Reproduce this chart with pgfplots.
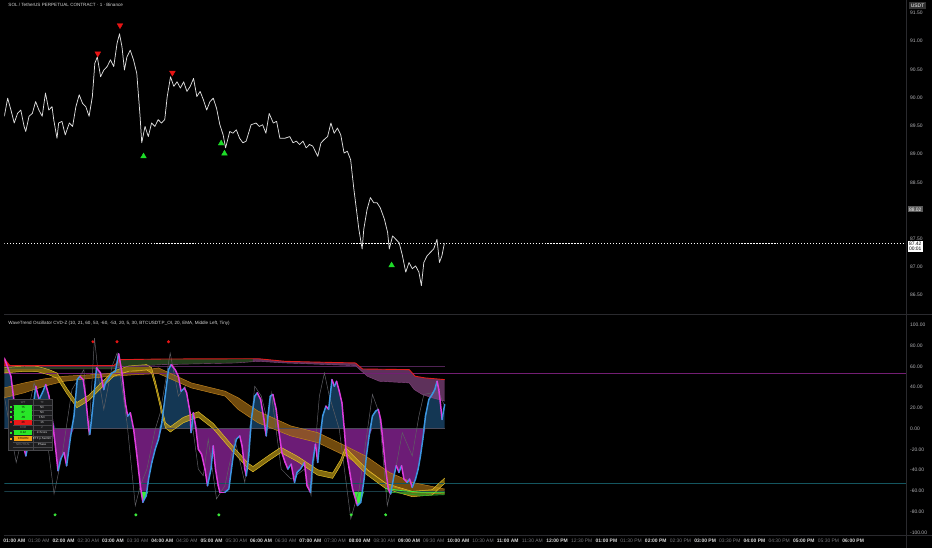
\documentclass[border=0pt]{standalone}
\usepackage{pgfplots}
\usepackage{pgfplotstable}
\pgfplotsset{compat=1.18}
\usepgfplotslibrary{fillbetween}
\usepackage{fontspec}
\setmainfont{Liberation Sans}
\pagecolor{black}

\definecolor{tvlab}{RGB}{178,178,182}
\definecolor{tvhour}{RGB}{215,215,215}
\definecolor{tvhalf}{RGB}{120,120,124}
\definecolor{tvsep}{RGB}{42,42,46}
\definecolor{priceln}{RGB}{222,222,222}
\definecolor{trired}{RGB}{232,20,20}
\definecolor{trigreen}{RGB}{30,220,40}
\definecolor{fillup}{RGB}{20,55,84}
\definecolor{filldn}{RGB}{108,28,118}
\definecolor{cvdgray}{RGB}{95,95,100}
\definecolor{fastfill}{RGB}{185,150,20}
\definecolor{fastedge}{RGB}{225,190,40}
\definecolor{slowfill}{RGB}{150,100,18}
\definecolor{slowedge}{RGB}{190,130,30}
\definecolor{bandred}{RGB}{225,30,30}
\definecolor{bandgreen}{RGB}{50,90,40}
\definecolor{bandmauve}{RGB}{135,70,130}
\definecolor{lnp53}{RGB}{115,30,115}
\definecolor{lnp60}{RGB}{80,35,85}
\definecolor{lnzero}{RGB}{75,75,90}
\definecolor{lnm53}{RGB}{20,85,95}
\definecolor{lnm60}{RGB}{25,60,70}
\definecolor{lime}{RGB}{60,235,60}
\definecolor{tbbg}{RGB}{28,28,30}
\definecolor{tbline}{RGB}{70,70,74}
\definecolor{tgreen}{RGB}{40,230,40}
\definecolor{tred}{RGB}{235,25,25}
\definecolor{torange}{RGB}{245,160,20}

\newcommand\tvfont{\fontsize{5}{5.5}\selectfont}
\newcommand\tbfont{\fontsize{3}{3.3}\selectfont}
\newcommand\hl[1]{\textcolor{tvhour}{\textbf{#1}}}
\newcommand\hh[1]{\textcolor{tvhalf}{#1}}

% 1-minute SOL price, minutes after midnight
\pgfplotstableread{
t p
48 89.67
52 89.99
56 89.78
60 89.55
64 89.72
68 89.78
72 89.49
74 89.40
78 89.67
82 89.72
86 89.93
90 89.78
94 89.67
98 90.08
102 89.78
106 89.84
108 89.61
112 89.28
114 89.55
118 89.58
122 89.34
127 89.55
131 89.49
135 89.84
139 90.05
143 89.90
147 89.84
151 89.67
155 90.02
158 90.61
161 90.72
165 90.37
169 90.49
173 90.55
177 90.67
181 90.55
185 90.96
188 91.13
191 90.90
194 90.49
197 90.72
201 90.84
205 90.67
209 90.43
213 89.67
215 89.20
219 89.49
223 89.31
227 89.55
231 89.49
235 89.61
239 89.55
243 89.61
246 90.02
250 90.37
254 90.20
258 90.28
262 90.17
266 90.28
270 90.11
274 90.20
278 90.34
282 90.02
286 90.11
290 89.96
294 89.78
298 89.93
302 89.99
306 89.81
310 89.52
314 89.34
317 89.11
322 89.40
326 89.37
330 89.43
334 89.28
338 89.20
342 89.23
348 89.52
354 89.55
358 89.49
362 89.52
366 89.37
370 89.72
375 89.55
379 89.58
383 89.28
389 89.28
395 89.31
399 89.20
403 89.23
407 89.17
411 89.23
415 89.11
419 89.17
423 89.14
429 88.96
433 89.20
437 89.26
441 89.31
445 89.55
449 89.37
453 89.46
457 89.34
461 89.02
465 89.05
469 88.90
473 88.37
475 88.14
479 87.67
483 87.32
485 87.67
489 88.02
493 88.23
497 88.14
501 88.14
505 88.05
510 87.85
514 87.61
516 87.32
520 87.55
524 87.49
528 87.43
532 87.20
536 86.91
540 87.08
544 86.97
548 87.02
552 86.91
555 86.67
558 87.08
562 87.20
566 87.26
570 87.32
574 87.49
577 87.08
580 87.20
583 87.42
}\pricedata

% wave line: c=1 rising (blue), c=0 falling (magenta)
\pgfplotstableread{
t v c
47.9 68.0 0
56.0 50.4 0
60.0 24.9 0
66.0 -0.6 0
74.2 -26.2 1
78.1 -10.2 1
82.1 15.3 1
86.2 40.8 0
90.2 28.1 1
94.2 34.5 1
98.3 42.4 0
102.3 31.3 0
106.3 8.9 0
110.4 -19.8 0
113.2 -40.5 1
116.5 -29.3 1
120.5 -23.0 0
123.7 -35.7 1
128.6 -7.0 1
132.6 12.1 1
136.6 47.2 1
139.8 50.4 0
143.8 47.2 0
146.7 31.3 0
150.7 -0.6 0
151.9 -5.4 1
153.5 5.7 1
156.8 31.3 1
160.0 58.4 0
164.9 53.6 0
168.9 37.6 1
170.9 44.0 1
174.9 48.8 1
178.9 53.6 1
183.0 55.2 1
187.0 72.0 0
191.0 53.6 0
195.1 24.9 0
197.9 12.1 1
201.2 15.3 0
205.2 -0.6 0
209.2 -26.2 0
213.3 -54.9 0
216.4 -70.8 1
220.5 -64.4 1
223.3 -48.5 1
227.3 -32.5 1
231.4 -19.8 1
235.4 -10.2 1
239.4 5.7 1
243.5 31.3 1
247.5 56.8 1
250.8 61.6 0
255.6 56.8 0
259.6 50.4 0
262.9 36.0 1
266.9 39.2 0
269.6 34.5 0
273.8 15.3 0
275.0 -3.8 1
277.7 15.3 0
280.5 2.6 0
283.8 -19.8 0
287.8 -24.6 0
291.9 -38.9 0
295.0 -54.9 1
299.2 -38.9 1
301.9 -16.6 0
304.7 -38.9 0
308.0 -54.9 0
310.0 -61.2 0
316.1 -61.2 1
320.9 -58.1 1
324.1 -38.9 1
327.3 -19.8 1
330.1 -10.2 1
334.2 -7.0 0
337.0 -16.6 0
340.3 -38.9 0
342.2 -45.3 1
345.1 -26.2 1
348.3 8.9 1
352.4 31.3 1
355.5 34.5 0
359.6 28.1 0
363.6 8.9 0
366.4 -7.0 1
368.5 12.1 1
371.3 31.3 1
374.5 32.9 0
378.5 18.5 0
381.4 -0.6 0
385.4 -23.0 0
389.4 -32.5 0
392.7 -38.9 1
396.7 -34.1 0
400.8 -51.7 1
403.9 -42.1 1
408.0 -38.9 1
412.9 -32.5 0
416.0 -54.9 0
420.1 -61.2 1
422.9 -32.5 1
426.2 -15.0 0
429.0 -32.5 1
431.7 -10.2 1
435.0 12.1 1
439.0 21.7 0
442.3 18.5 1
446.3 47.2 0
449.2 40.8 1
451.9 45.6 0
455.2 36.0 0
458.4 24.9 0
461.3 -0.6 0
463.2 -19.8 0
467.3 -38.9 0
471.3 -58.1 0
477.3 -74.0 1
481.3 -70.8 1
485.4 -48.5 1
488.2 -26.2 1
491.5 -7.0 1
495.5 12.1 1
499.5 16.9 1
502.7 18.5 0
505.5 8.9 0
508.4 -13.4 0
511.6 -38.9 0
514.8 -58.1 0
517.6 -62.8 1
521.7 -45.3 1
524.5 -35.7 0
527.8 -42.1 1
530.9 -35.7 0
533.8 -48.5 0
537.8 -51.7 1
540.6 -48.5 0
543.9 -56.5 1
547.9 -48.5 1
551.1 -38.9 1
553.9 -26.2 1
556.8 -10.2 1
560.0 12.1 1
564.1 28.1 1
568.1 32.9 1
571.3 37.6 1
574.1 45.6 0
576.2 37.6 0
578.1 24.9 0
580.2 8.9 1
582.2 18.5 1
583.4 23.3 1
}\wtdata

\pgfplotstableread{
t v
47.9 31.3
62.4 -32.5
72.1 -0.6
84.2 44.0
96.3 12.1
108.4 -62.8
118.1 -26.2
130.2 37.6
144.7 56.8
150.7 -7.0
157.6 87.1
162.8 47.2
168.9 18.5
178.9 60.0
185.0 72.7
197.1 5.7
207.2 -74.0
213.3 -54.9
221.3 -38.9
231.4 -0.6
237.5 15.3
249.6 72.7
259.6 31.3
267.7 40.8
275.7 8.9
283.8 -38.9
289.8 -45.3
295.9 -10.2
305.9 -67.6
316.1 -54.9
328.2 -10.2
340.3 -51.7
352.4 40.8
360.4 31.3
368.5 5.7
372.5 34.5
384.6 -38.9
396.7 -48.5
412.9 -38.9
420.9 -64.4
431.0 31.3
437.1 53.6
443.1 31.3
455.2 -0.6
469.2 -86.8
479.4 -58.1
495.5 32.9
503.6 15.3
513.6 -74.0
523.7 -38.9
531.8 -3.8
543.9 -26.2
552.0 12.1
558.0 32.9
568.1 34.5
576.2 34.5
583.4 21.7
}\cvddata

\pgfplotstableread{
t a b
47.9 58.7 53.6
72.1 60.3 55.2
87.8 60.0 54.9
102.3 56.8 51.7
112.0 53.6 48.5
124.1 38.6 33.5
136.2 25.2 20.1
150.7 32.2 27.1
168.9 46.6 41.5
181.0 55.5 50.4
199.1 60.3 55.2
220.9 61.6 56.5
226.9 58.7 53.6
231.8 45.0 39.9
239.0 21.1 16.0
243.9 5.7 0.6
249.9 1.9 -3.2
265.6 10.9 5.7
283.8 16.3 11.2
301.9 5.1 0.0
326.1 -17.2 -22.3
344.3 -33.2 -38.3
350.3 -36.4 -41.5
368.5 -26.2 -31.3
384.2 -17.9 -23.0
404.8 -26.8 -31.9
429.0 -39.5 -44.7
447.1 -42.7 -47.8
456.8 -30.0 -35.1
462.8 -17.9 -23.0
471.3 -25.2 -30.3
489.4 -39.5 -44.7
511.2 -52.3 -57.4
525.7 -56.1 -61.2
543.9 -60.3 -65.4
568.1 -58.7 -63.8
583.4 -47.5 -52.6
}\fastdata

\pgfplotstableread{
t a b
47.9 39.2 29.7
72.1 44.0 34.5
96.3 47.9 40.8
120.5 50.4 45.6
168.9 52.6 49.8
208.8 55.2 52.0
235.4 58.4 53.0
275.3 44.0 39.2
316.5 36.0 31.3
332.2 29.7 18.5
356.4 16.9 5.7
396.3 2.6 -7.0
429.0 -3.8 -13.4
462.8 -16.6 -26.2
487.0 -26.2 -38.9
516.1 -42.1 -54.9
543.9 -51.7 -61.2
583.4 -58.1 -62.8
}\slowdata

\pgfplotstableread{
t v
47.9 60.6
181.0 60.6
189.4 66.4
241.5 67.0
356.4 67.3
389.0 64.8
422.9 64.1
474.9 63.2
483.4 57.4
540.2 56.8
547.5 50.4
559.6 48.8
583.4 47.2
}\bandtop

\pgfplotstableread{
t v
47.9 57.4
181.0 57.4
189.4 59.6
241.5 61.6
329.8 63.2
356.4 64.8
389.0 63.2
422.9 62.2
474.9 60.6
489.4 50.4
503.9 45.6
540.2 44.0
546.3 37.6
556.0 32.9
568.1 29.7
583.4 26.5
}\bandbot

\pgfplotsset{
  colormap={wtc}{rgb255=(222,60,222) rgb255=(60,150,225)},
  tvbase/.style={
    scale only axis,
    xmin=47.9, xmax=1145,
    axis line style={draw=none},
    tick style={draw=none},
    major tick length=0pt,
    yticklabel pos=right,
    y tick label style={font=\tvfont, text=tvlab,
      /pgf/number format/.cd, fixed, fixed zerofill, precision=2, assume math mode=true},
  },
}

\begin{document}
\begin{tikzpicture}[x=1pt,y=1pt]
\path (0,0) rectangle (932,550);

% ---------- price pane ----------
\begin{axis}[tvbase, name=top,
    at={(0pt,235pt)}, anchor=south west,
    width=907pt, height=315pt,
    ymin=86.172, ymax=91.722,
    ytick={86.5,87.0,87.5,88.0,88.5,89.0,89.5,90.0,90.5,91.0,91.5},
    xtick=\empty,
  ]
  \addplot[white, line width=0.9pt, dash pattern=on 1.2pt off 1.8pt]
    coordinates {(47.9,87.42) (1145,87.42)};
  \addplot[priceln, line width=0.75pt, line join=round] table[x=t, y=p] {\pricedata};
  \addplot[only marks, mark=triangle*, mark size=3.3pt, color=trired,
    mark options={rotate=180}]
    coordinates {(161.6,90.78) (188.6,91.28) (252.3,90.44)};
  \addplot[only marks, mark=triangle*, mark size=3.3pt, color=trigreen]
    coordinates {(217.2,88.96) (311.6,89.19) (315.6,89.01) (518.8,87.03)};
  \coordinate (c8802) at (axis cs:1145,88.02);
  \coordinate (c8742) at (axis cs:1145,87.42);
\end{axis}

% ---------- oscillator pane ----------
\begin{axis}[tvbase, name=bot,
    at={(0pt,12pt)}, anchor=south west,
    width=907pt, height=221pt,
    ymin=-102.9, ymax=108.6,
    ytick={-100,-80,...,100},
    xtick={60,90,...,1080},
    xticklabels={\hl{01:00 AM},\hh{01:30 AM},\hl{02:00 AM},\hh{02:30 AM},
      \hl{03:00 AM},\hh{03:30 AM},\hl{04:00 AM},\hh{04:30 AM},
      \hl{05:00 AM},\hh{05:30 AM},\hl{06:00 AM},\hh{06:30 AM},
      \hl{07:00 AM},\hh{07:30 AM},\hl{08:00 AM},\hh{08:30 AM},
      \hl{09:00 AM},\hh{09:30 AM},\hl{10:00 AM},\hh{10:30 AM},
      \hl{11:00 AM},\hh{11:30 AM},\hl{12:00 PM},\hh{12:30 PM},
      \hl{01:00 PM},\hh{01:30 PM},\hl{02:00 PM},\hh{02:30 PM},
      \hl{03:00 PM},\hh{03:30 PM},\hl{04:00 PM},\hh{04:30 PM},
      \hl{05:00 PM},\hh{05:30 PM},\hl{06:00 PM}},
    x tick label style={font=\tvfont, anchor=center, yshift=-5pt},
    point meta min=0, point meta max=1,
  ]
  % level lines
  \addplot[lnp53, line width=0.7pt] coordinates {(47.9,53) (1145,53)};
  \addplot[lnm53, line width=0.7pt] coordinates {(47.9,-53) (1145,-53)};
  \addplot[lnp60, line width=0.6pt, name path=p60] coordinates {(47.9,60) (583.4,60)};
  \addplot[lnzero, line width=0.6pt, name path=zero] coordinates {(47.9,0) (583.4,0)};
  \addplot[lnm60, line width=0.6pt, name path=m60] coordinates {(47.9,-60) (583.4,-60)};

  % wave clipped to each side of the levels, for the fills
  \addplot[draw=none, name path=wtpos, y filter/.expression={max(y,0)}]
    table[x=t, y=v] {\wtdata};
  \addplot[draw=none, name path=wtneg, y filter/.expression={min(y,0)}]
    table[x=t, y=v] {\wtdata};
  \addplot[draw=none, name path=wtlow, y filter/.expression={min(y,-60)}]
    table[x=t, y=v] {\wtdata};
  \addplot[draw=none, name path=wthigh, y filter/.expression={max(y,60)}]
    table[x=t, y=v] {\wtdata};
  \addplot[fill=fillup, draw=none] fill between[of=wtpos and zero];
  \addplot[fill=filldn, draw=none] fill between[of=wtneg and zero];
  \addplot[fill=lime, draw=none] fill between[of=wtlow and m60];
  \addplot[fill=trired, draw=none] fill between[of=wthigh and p60];

  % thin CVD line
  \addplot[cvdgray, line width=0.5pt] table[x=t, y=v] {\cvddata};

  % slow ribbon
  \addplot[slowedge, line width=0.5pt, name path=sa] table[x=t, y=a] {\slowdata};
  \addplot[slowedge, line width=0.5pt, name path=sb] table[x=t, y=b] {\slowdata};
  \addplot[fill=slowfill, fill opacity=0.75, draw=none] fill between[of=sa and sb];

  % fast ribbon
  \addplot[fastedge, line width=0.5pt, name path=fa] table[x=t, y=a] {\fastdata};
  \addplot[fastedge, line width=0.5pt, name path=fb] table[x=t, y=b] {\fastdata};
  \addplot[fill=fastfill, fill opacity=0.7, draw=none] fill between[of=fa and fb];

  % upper band
  \addplot[bandred, line width=0.9pt, name path=ua] table[x=t, y=v] {\bandtop};
  \addplot[draw=bandmauve, line width=0.4pt, name path=ub] table[x=t, y=v] {\bandbot};
  \addplot[fill=bandgreen, fill opacity=0.7, draw=none]
    fill between[of=ua and ub, soft clip={domain=40:350}];
  \addplot[fill=bandmauve, fill opacity=0.7, draw=none]
    fill between[of=ua and ub, soft clip={domain=350:600}];

  % lower green band
  \addplot[lime, line width=0.8pt, name path=ga]
    coordinates {(511.2,-57.4) (531.8,-59.7) (556.0,-61.2) (583.4,-61.2)};
  \addplot[lime!70!black, line width=0.6pt, name path=gb]
    coordinates {(511.2,-60.6) (531.8,-62.2) (556.0,-64.4) (583.4,-63.5)};
  \addplot[fill=lime!60!black, fill opacity=0.6, draw=none] fill between[of=ga and gb];

  % wave line coloured by direction
  \addplot[mesh, shader=flat corner, colormap name=wtc, point meta=explicit,
    line width=1.5pt, line cap=round, line join=round]
    table[x=t, y=v, meta=c] {\wtdata};

  % signal dots
  \addplot[only marks, mark=*, mark size=1.3pt, color=trired]
    coordinates {(155.6,83.6) (185.0,83.6) (247.5,83.6)};
  \addplot[only marks, mark=*, mark size=1.3pt, color=lime]
    coordinates {(109.6,-82.9) (207.9,-82.9) (308.8,-82.9) (469.7,-82.9) (511.6,-82.9)};
\end{axis}

% pane frames
\draw[tvsep, line width=1pt] (0,234.5) -- (932,234.5);
\draw[tvsep, line width=0.8pt] (0,12) -- (932,12);
\draw[tvsep, line width=0.8pt] (907,0) -- (907,550);

% titles
\node[anchor=west, font=\fontsize{4.6}{5}\selectfont, text=tvhour, inner sep=0pt]
  at (4,545) {SOL / TetherUS PERPETUAL CONTRACT · 1 · Binance};
\node[anchor=west, font=\fontsize{4.6}{5}\selectfont, text=tvhour, inner sep=0pt]
  at (4,225) {WaveTrend Oscillator CVD-Z (10, 21, 60, 53, -60, -53, 20, 5, 30, BTCUSDT.P\_OI, 20, EMA, Middle Left, Tiny)};

% price scale labels
\node[anchor=west, fill=black!65, text=white, font=\tvfont, inner sep=1.2pt, xshift=1pt]
  at (c8802) {88.02};
\node[anchor=west, fill=white, text=black, font=\tvfont, inner sep=1.2pt, xshift=1pt,
  align=left, yshift=-3pt]
  at (c8742) {87.42\\00:01};
\node[fill=black!80, text=white, font=\tvfont, inner sep=1.5pt] at (918,545) {USDT};

% status table
\fill[tbbg] (4,98) rectangle (48,149);
\draw[tbline, line width=0.3pt] (4,98) rectangle (48,149);
\foreach \yy in {143.5,138.5,133.5,128.5,123.5,118.5,112.5,106.5,101}
  \draw[tbline, line width=0.2pt] (9,\yy) -- (48,\yy);
\draw[tbline, line width=0.2pt] (28.5,98) -- (28.5,149);
\node[font=\tbfont, text=tvhalf] at (19,146) {WT};
\node[font=\tbfont, text=tvhalf] at (38,146) {TF};
\foreach \yy/\vv/\cc/\tf in {141/75/tgreen/5m, 136/67/tgreen/5m, 131/-65/tgreen/15m, 126/26/tred/1h}{
  \fill[\cc] (10,\yy-2.3) rectangle (28,\yy+2.3);
  \fill[\cc] (6,\yy-0.9) rectangle (7.8,\yy+0.9);
  \node[font=\tbfont, text=black] at (19,\yy) {\vv};
  \node[font=\tbfont, text=tvhour] at (38,\yy) {\tf};
}
\node[font=\tbfont, text=tvhalf] at (19,121) {CVD};
\node[font=\tbfont, text=tvhalf] at (38,121) {Z};
\fill[tgreen] (10,113) rectangle (28,118);
\fill[tgreen] (6,114.6) rectangle (7.8,116.4);
\node[font=\tbfont, text=black] at (19,115.5) {0.12};
\node[font=\tbfont, text=tvhour] at (38,115.5) {Z-Score};
\fill[torange] (10,107) rectangle (28,112);
\fill[torange] (6,108.6) rectangle (7.8,110.4);
\node[font=\tbfont, text=black] at (19,109.5) {CHURN};
\node[font=\tbfont, text=tvhour] at (38,109.5) {ETF p.Sentim};
\node[font=\tbfont, text=tvhalf] at (19,103.5) {NEUTRAL};
\node[font=\tbfont, text=tvhour] at (38,103.5) {Phase};
\end{tikzpicture}
\end{document}
